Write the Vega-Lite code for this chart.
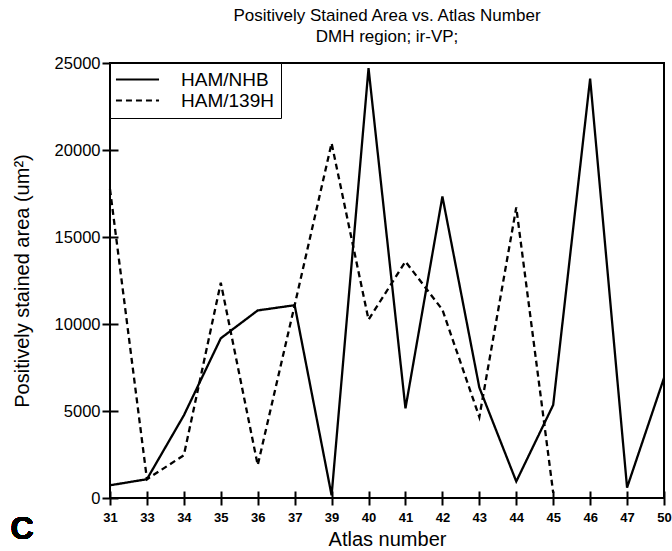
{
  "$schema": "https://vega.github.io/schema/vega-lite/v6.json",
  "width": 554,
  "height": 435,
  "autosize": "none",
  "padding": {"left": 110, "top": 63, "right": 8, "bottom": 53},
  "background": "white",
  "config": {
    "font": "Liberation Sans",
    "view": {"stroke": "black", "strokeWidth": 2},
    "axis": {"grid": false, "ticks": true, "labelColor": "black", "titleColor": "black", "tickColor": "black", "domainColor": "black"}
  },
  "title": {
    "text": "Positively Stained Area vs. Atlas Number",
    "subtitle": "DMH region; ir-VP;",
    "anchor": "middle",
    "fontSize": 17,
    "fontWeight": "normal",
    "subtitleFontSize": 17,
    "subtitleColor": "black",
    "color": "black",
    "subtitlePadding": 4,
    "offset": 9
  },
  "data": {
    "values": [
      {"atlas": "31", "series": "HAM/NHB", "area": 730},
      {"atlas": "33", "series": "HAM/NHB", "area": 1080},
      {"atlas": "34", "series": "HAM/NHB", "area": 4750},
      {"atlas": "35", "series": "HAM/NHB", "area": 9180},
      {"atlas": "36", "series": "HAM/NHB", "area": 10780},
      {"atlas": "37", "series": "HAM/NHB", "area": 11080},
      {"atlas": "39", "series": "HAM/NHB", "area": 150},
      {"atlas": "40", "series": "HAM/NHB", "area": 24700},
      {"atlas": "41", "series": "HAM/NHB", "area": 5150},
      {"atlas": "42", "series": "HAM/NHB", "area": 17330},
      {"atlas": "43", "series": "HAM/NHB", "area": 6350},
      {"atlas": "44", "series": "HAM/NHB", "area": 950},
      {"atlas": "45", "series": "HAM/NHB", "area": 5350},
      {"atlas": "46", "series": "HAM/NHB", "area": 24100},
      {"atlas": "47", "series": "HAM/NHB", "area": 600},
      {"atlas": "50", "series": "HAM/NHB", "area": 6900},
      {"atlas": "31", "series": "HAM/139H", "area": 17750},
      {"atlas": "33", "series": "HAM/139H", "area": 1080},
      {"atlas": "34", "series": "HAM/139H", "area": 2460},
      {"atlas": "35", "series": "HAM/139H", "area": 12370},
      {"atlas": "36", "series": "HAM/139H", "area": 1890},
      {"atlas": "37", "series": "HAM/139H", "area": 11080},
      {"atlas": "39", "series": "HAM/139H", "area": 20390},
      {"atlas": "40", "series": "HAM/139H", "area": 10250},
      {"atlas": "41", "series": "HAM/139H", "area": 13590},
      {"atlas": "42", "series": "HAM/139H", "area": 10820},
      {"atlas": "43", "series": "HAM/139H", "area": 4650},
      {"atlas": "44", "series": "HAM/139H", "area": 16700},
      {"atlas": "45", "series": "HAM/139H", "area": 300}
    ]
  },
  "layer": [
    {
      "mark": {"type": "line", "color": "black", "strokeWidth": 2.3},
      "encoding": {
        "x": {
          "field": "atlas",
          "type": "ordinal",
          "sort": ["31","33","34","35","36","37","39","40","41","42","43","44","45","46","47","50"],
          "scale": {"type": "point", "padding": 0},
          "axis": {
            "title": "Atlas number",
            "titleFontSize": 20,
            "titleFontWeight": "normal",
            "titlePadding": 5,
            "labelAngle": 0,
            "labelFontSize": 13,
            "labelFontWeight": "bold",
            "labelPadding": 6,
            "domain": false,
            "ticks": true,
            "offset": -7,
            "tickSize": 14,
            "tickWidth": 2,
            "tickColor": "black"
          }
        },
        "y": {
          "field": "area",
          "type": "quantitative",
          "scale": {"domain": [0, 25000], "nice": false},
          "axis": {
            "title": "Positively stained area (um²)",
            "titleFontSize": 20,
            "titleFontWeight": "normal",
            "titlePadding": 22,
            "values": [0, 5000, 10000, 15000, 20000, 25000],
            "format": "d",
            "labelFontSize": 16.5,
            "labelPadding": 2,
            "domain": false,
            "ticks": true,
            "offset": -8,
            "tickSize": 16,
            "tickWidth": 2,
            "tickColor": "black"
          }
        },
        "strokeDash": {
          "field": "series",
          "type": "nominal",
          "scale": {"domain": ["HAM/NHB", "HAM/139H"], "range": [[1, 0], [6, 4]]},
          "legend": {
            "title": null,
            "orient": "top-left",
            "offset": 0,
            "strokeColor": "black",
            "fillColor": "white",
            "padding": 7,
            "symbolType": "M-4,0H4",
            "symbolStrokeColor": "black",
            "symbolStrokeWidth": 2,
            "symbolSize": 116,
            "symbolOffset": 11,
            "labelFontSize": 19,
            "labelColor": "black",
            "labelOffset": 34,
            "rowPadding": 1
          }
        }
      }
    },
    {
      "mark": {"type": "text", "text": "C", "fontSize": 32, "fontWeight": "bold", "color": "black", "font": "Liberation Sans", "dx": -88, "dy": 31},
      "encoding": {"x": {"datum": "31"}, "y": {"datum": 0}}
    }
  ]
}
